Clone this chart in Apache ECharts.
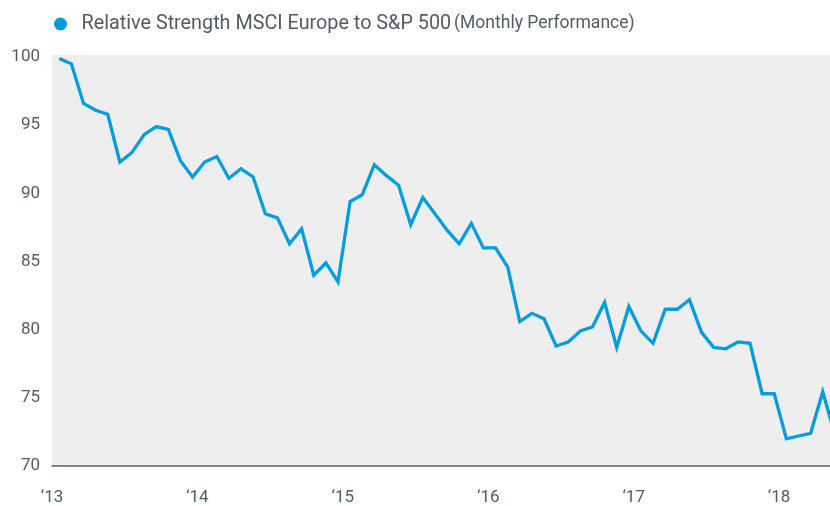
<!DOCTYPE html>
<html>
<head>
<meta charset="utf-8">
<script src="https://cdn.jsdelivr.net/npm/echarts@6/dist/echarts.min.js"></script>
<style>
  html, body { margin: 0; padding: 0; background: #ffffff; }
  #chart { width: 830px; height: 506px; }
</style>
</head>
<body>
<div id="chart"></div>
<script>
// Monthly relative strength values, Jan 2013 onward (last point runs past the right edge)
const seriesName = 'Relative Strength MSCI Europe to S&P 500';
const seriesNote = '(Monthly Performance)';
const yearLabels = ['‘13', '‘14', '‘15', '‘16', '‘17', '‘18'];
const yTicks = [70, 75, 80, 85, 90, 95, 100];
const values = [
  99.9, 99.5, 96.6, 96.1, 95.8, 92.3, 93.0, 94.3, 94.9, 94.7, 92.4, 91.2,
  92.3, 92.7, 91.1, 91.8, 91.2, 88.5, 88.2, 86.3, 87.4, 84.0, 84.9, 83.5,
  89.4, 89.9, 92.1, 91.3, 90.6, 87.7, 89.7, 88.5, 87.3, 86.3, 87.8, 86.0,
  86.0, 84.6, 80.6, 81.2, 80.8, 78.8, 79.1, 79.9, 80.2, 82.0, 78.7, 81.7,
  79.9, 79.0, 81.5, 81.5, 82.2, 79.8, 78.7, 78.6, 79.1, 79.0, 75.3, 75.3,
  72.0, 72.2, 72.4, 75.45, 72.3
];

// x position in months since Jan 2013 (points plotted mid-month)
const midMonth = 0.6;
const seriesData = values.map((v, i) => [i + midMonth, v]);

const textColor = '#555b62';
const chart = echarts.init(document.getElementById('chart'), null, { renderer: 'canvas' });
chart.setOption({
  animation: false,
  backgroundColor: '#ffffff',
  textStyle: { fontFamily: 'Roboto' },
  legend: {
    show: true,
    left: 54,
    top: 14,
    icon: 'circle',
    itemWidth: 32,
    itemHeight: 13,
    padding: 0,
    data: [seriesName],
    formatter: name => '{a|' + name + '} {b|' + seriesNote + '}',
    textStyle: {
      rich: {
        a: { fontFamily: 'Roboto', fontSize: 19.8, color: textColor },
        b: { fontFamily: 'Roboto', fontSize: 17.5, color: textColor }
      }
    }
  },
  grid: {
    left: 52, right: 0, top: 55, bottom: 40,
    show: true,
    backgroundColor: '#eeeeee',
    borderWidth: 0
  },
  xAxis: {
    type: 'value',
    min: 0,
    max: 64.2,
    interval: 12,
    axisLine: { show: true, lineStyle: { color: '#5a5f66', width: 1.5 } },
    axisTick: { show: false },
    splitLine: { show: false },
    axisLabel: {
      showMaxLabel: false,
      margin: 23,
      fontFamily: 'Roboto',
      fontSize: 17,
      color: textColor,
      formatter: v => (v % 12 === 0 ? yearLabels[v / 12] : '')
    }
  },
  yAxis: {
    type: 'value',
    min: yTicks[0],
    max: 100.15,
    interval: 5,
    axisLine: { show: false },
    axisTick: { show: false },
    splitLine: { show: false },
    axisLabel: {
      margin: 12,
      fontFamily: 'Roboto',
      fontSize: 17,
      color: textColor,
      formatter: v => (yTicks.indexOf(v) >= 0 ? String(v) : '')
    }
  },
  series: [{
    name: seriesName,
    type: 'line',
    data: seriesData,
    showSymbol: false,
    symbol: 'none',
    clip: true,
    itemStyle: { color: '#009ddc' },
    lineStyle: { color: '#009ddc', width: 3.3, join: 'miter' }
  }]
});
</script>
</body>
</html>
